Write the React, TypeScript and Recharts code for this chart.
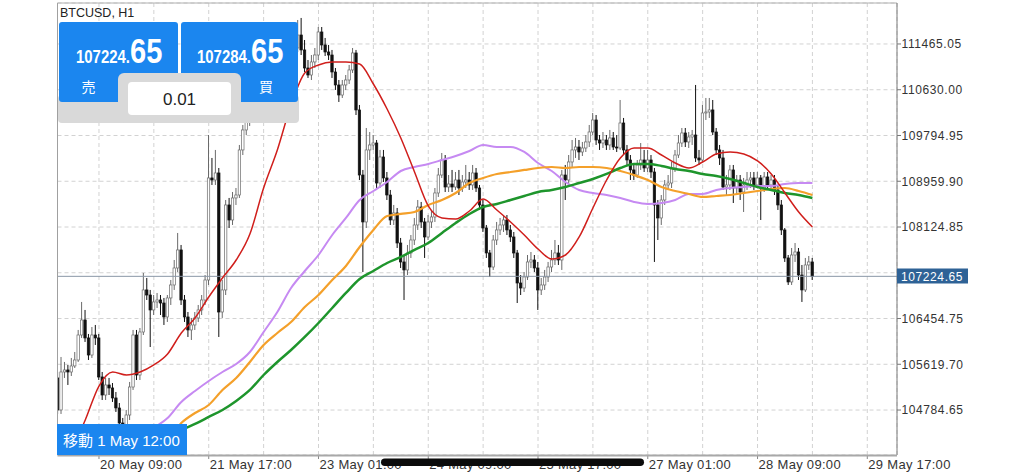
import React from "react";
import { ComposedChart, Bar, Line, XAxis, YAxis, CartesianGrid, ReferenceLine } from "recharts";

// BTCUSD H1 candles, one per hour; hour 0 = 19 May 21:00
const FIRST_OPEN = 105370;
const CLOSE = [
  104786, 105479, 105516, 105479, 105589, 105698, 106154, 106428, 106100, 105789,
  106154, 106100, 105388, 105059, 105242, 105187, 105005, 104822, 104548, 104275,
  104694, 105205, 106154, 105424, 106209, 106976, 106884, 106611, 106757, 106793,
  106738, 106483, 106830, 107067, 107377, 107706, 106793, 106483, 106246, 106337,
  106465, 106611, 106793, 107158, 109020, 108983, 109111, 106574, 106976, 108527,
  108253, 108655, 108709, 109531, 109896, 110042, 110261, 110443, 110534, 110662,
  110589, 110808, 110954, 110899, 111137, 111210, 111356, 111264, 111447, 111392,
  111629, 111356, 111027, 110899, 111137, 111264, 111684, 111447, 111319, 111264,
  110954, 110717, 110534, 110717, 110808, 110991, 111301, 110261, 109074, 108217,
  109531, 109622, 109658, 108928, 109403, 109020, 108709, 108253, 108381, 107833,
  107487, 107341, 107651, 107888, 108162, 108490, 108217, 107943, 108217, 108308,
  108746, 109074, 109348, 108855, 108910, 108855, 108983, 108837, 108947, 108983,
  108892, 109111, 108837, 108527, 108107, 107651, 107395, 107888, 108071, 108162,
  108253, 108071, 107943, 107651, 107103, 107012, 107213, 107487, 107523, 107377,
  106976, 107067, 107213, 107395, 107523, 107651, 107523, 109074, 108983, 109312,
  109531, 109585, 109494, 109567, 109677, 109859, 110078, 109713, 109658, 109713,
  109622, 109750, 109585, 109567, 110023, 109531, 109348, 109166, 109074, 109257,
  109348, 109202, 109348, 109129, 108527, 108290, 108618, 108892, 108928, 109202,
  109439, 109658, 109841, 109677, 109768, 109804, 109385, 109348, 110206, 110224,
  110261, 109859, 109531, 109385, 108855, 108892, 109166, 108837, 108983, 108764,
  108892, 108983, 109020, 108892, 109020, 108837, 109038, 108892, 108983, 108801,
  108527, 108071, 107560, 107122, 107614, 107669, 107249, 106976, 107432, 107487,
  107224.65,
];
const HIGH = [
  105479, 105753, 105662, 105607, 105735, 105844, 106246, 106757, 106611, 106173,
  106300, 106337, 106173, 105479, 105370, 105370, 105278, 105114, 104913, 104640,
  104786, 105297, 106246, 106246, 106282, 107286, 107195, 106976, 106884, 106921,
  106884, 106830, 106884, 107158, 107523, 108016, 107797, 106884, 106574, 106465,
  106574, 106702, 106884, 107249, 109804, 109385, 109531, 109202, 107158, 108618,
  108655, 108764, 108837, 109622, 109987, 110169, 110352, 110534, 110662, 110772,
  110735, 110899, 111064, 111027, 111228, 111319, 111465, 111428, 111538, 111575,
  111903, 111940, 111538, 111173, 111264, 111392, 111775, 111775, 111575, 111447,
  111356, 111027, 110808, 110808, 110899, 111082, 111392, 111356, 110352, 109166,
  109932, 109859, 109804, 109713, 109531, 109531, 109129, 108801, 108527, 108472,
  107925, 107614, 107797, 107979, 108290, 108618, 108582, 108290, 108344, 108436,
  108837, 109202, 109476, 109439, 109074, 109166, 109129, 109166, 109074, 109257,
  109129, 109257, 109202, 108892, 108618, 108162, 107706, 107979, 108217, 108290,
  108344, 108344, 108162, 108034, 107706, 107249, 107304, 107614, 107669, 107614,
  107487, 107195, 107341, 107487, 107706, 107888, 107797, 109166, 109257, 109439,
  109713, 109750, 109713, 109677, 109804, 109987, 110206, 110169, 109804, 109859,
  109804, 109896, 109859, 109804, 110443, 110115, 109622, 109439, 109293, 109348,
  109658, 109531, 109531, 109439, 109202, 108618, 108709, 108983, 109074, 109312,
  109531, 109804, 109932, 109932, 109859, 109896, 110717, 109531, 110352, 110480,
  110480, 110443, 109932, 109622, 109531, 109074, 109257, 109257, 109074, 109074,
  109020, 109129, 109129, 109129, 109129, 109074, 109129, 109129, 109074, 109074,
  108892, 108618, 108107, 107614, 107742, 107833, 107742, 107432, 107560, 107596,
  107560,
];
const LOW = [
  104713, 104713, 105370, 105242, 105406, 105552, 105662, 106100, 106027, 105698,
  105735, 105972, 105333, 104968, 104968, 105059, 104932, 104749, 104457, 104147,
  104129, 104603, 105151, 105333, 105333, 106154, 106793, 105935, 106519, 106647,
  106519, 106337, 106392, 106702, 106976, 107304, 106702, 106392, 106118, 106063,
  106246, 106392, 106519, 106702, 107067, 108892, 108892, 106118, 106465, 106884,
  108107, 108162, 108527, 108655, 109439, 109804, 109969, 110169, 110370, 110443,
  110480, 110534, 110735, 110808, 110845, 111064, 111137, 111173, 111210, 111319,
  111319, 111264, 110954, 110845, 110808, 111027, 111173, 111356, 111246, 111173,
  110845, 110626, 110407, 110480, 110626, 110735, 110936, 110169, 108983, 107304,
  108107, 109348, 109531, 108837, 108837, 108947, 108618, 108162, 108162, 107742,
  107377, 106793, 107249, 107560, 107797, 108071, 108107, 107560, 107888, 108107,
  108217, 108673, 109020, 108764, 108764, 108764, 108801, 108709, 108764, 108837,
  108801, 108801, 108764, 108436, 108034, 107560, 107213, 107341, 107797, 107979,
  108034, 107979, 107852, 107560, 106738, 106884, 106939, 107158, 107377, 107304,
  106611, 106884, 106976, 107122, 107304, 107432, 107432, 107341, 108618, 108892,
  109202, 109385, 109348, 109421, 109494, 109585, 109804, 109622, 109531, 109567,
  109531, 109531, 109531, 109494, 109531, 109439, 109257, 108983, 108983, 109020,
  109166, 109129, 109129, 109020, 107487, 107888, 108162, 108527, 108801, 108837,
  109129, 109385, 109585, 109585, 109567, 109622, 109312, 109257, 109312, 110078,
  110115, 109804, 109439, 109257, 108801, 108709, 108801, 108563, 108709, 108618,
  108399, 108801, 108837, 108801, 108837, 108253, 108764, 108801, 108837, 108709,
  108436, 107979, 107487, 107067, 107067, 107487, 107158, 106757, 106939, 107341,
  107158,
];

// moving averages, one value every 4 hours (hour 0, 4, 8 ... 220)
const MA_RED = [
  103453, 104037, 104603, 105223, 105479, 105424, 105479, 105607, 105808, 106191,
  106465, 106848, 107195, 107523, 107997, 108837, 109531, 110352, 110936, 111082,
  111137, 111137, 111100, 110735, 110279, 109750, 109129, 108509, 108290, 108271,
  108417, 108636, 108436, 108217, 107979, 107724, 107541, 107614, 107943, 108472,
  108983, 109385, 109567, 109567, 109439, 109293, 109202, 109312, 109458, 109494,
  109458, 109330, 109093, 108746, 108399, 108125,
];
const MA_VIOLET = [
  102960, 103180, 103398, 103618, 103837, 104055, 104275, 104457, 104640, 104932,
  105132, 105315, 105479, 105625, 105844, 106209, 106574, 107012, 107322, 107614,
  107979, 108290, 108618, 108782, 108947, 109147, 109220, 109275, 109348, 109421,
  109512, 109622, 109585, 109585, 109494, 109293, 109147, 108947, 108801, 108746,
  108709, 108655, 108582, 108545, 108563, 108618, 108728, 108728, 108801, 108837,
  108855, 108874, 108874, 108910, 108928, 108928,
];
const MA_ORANGE = [
  102413, 102595, 102778, 103052, 103325, 103600, 103873, 104055, 104238, 104548,
  104731, 104877, 105151, 105370, 105662, 105972, 106191, 106392, 106665, 106884,
  107158, 107414, 107760, 108071, 108326, 108363, 108399, 108527, 108618, 108746,
  108928, 109020, 109093, 109129, 109166, 109202, 109220, 109202, 109220, 109220,
  109202, 109147, 109074, 108983, 108855, 108782, 108728, 108673, 108691, 108709,
  108746, 108782, 108819, 108837, 108782, 108709,
];
const MA_GREEN = [
  102048, 102413, 102778, 103143, 103508, 103837, 104055, 104220, 104329, 104420,
  104530, 104658, 104786, 104950, 105151, 105424, 105662, 105880, 106118, 106373,
  106647, 106921, 107176, 107322, 107468, 107578, 107706, 107833, 108016, 108198,
  108363, 108490, 108545, 108618, 108691, 108764, 108801, 108855, 108928, 109001,
  109093, 109202, 109275, 109275, 109239, 109184, 109147, 109093, 109056, 109001,
  108928, 108855, 108801, 108746, 108709, 108655,
];

const GRID_HOURS = [12, 28, 44, 60, 76, 92, 108, 124, 140, 156, 172, 188, 204, 220, 236];
const X_LABEL_HOURS = [12, 44, 76, 108, 140, 172, 204, 236];
const X_LABELS = [
  "20 May 09:00", "21 May 17:00", "23 May 01:00", "24 May 09:00",
  "25 May 17:00", "27 May 01:00", "28 May 09:00", "29 May 17:00",
];
const PRICE_TICKS = [
  111465.05, 110630.0, 109794.95, 108959.9, 108124.85, 107289.8, 106454.75, 105619.7, 104784.65,
];
const BID = 107224.65;
const ASK = 107284.65;
const LOT = "0.01";

const FONT = '"Liberation Sans", Arial, "Noto Sans CJK JP", sans-serif';
const PLOT_LEFT = 57.5;
const PLOT_RIGHT = 897;
const PLOT_TOP = 3;
const PLOT_BOTTOM = 455;
const BLUE = "#1b86ef";

const rows = CLOSE.map((close, i) => ({
  t: i,
  open: i === 0 ? FIRST_OPEN : CLOSE[i - 1],
  high: HIGH[i],
  low: LOW[i],
  close,
  red: i % 4 === 0 ? MA_RED[i / 4] : null,
  violet: i % 4 === 0 ? MA_VIOLET[i / 4] : null,
  orange: i % 4 === 0 ? MA_ORANGE[i / 4] : null,
  green: i % 4 === 0 ? MA_GREEN[i / 4] : null,
}));

function Candle(props: any) {
  const { x, y, width, height, payload } = props;
  if (!payload || x == null || y == null) return null;
  const { open, close, high, low } = payload;
  const h = Math.abs(height);
  const top = height < 0 ? y + height : y;
  const k = h / (high - low || 1);
  const py = (v: number) => top + (high - v) * k;
  const cx = x + width / 2;
  const up = close >= open;
  const bTop = py(Math.max(open, close));
  const bBot = py(Math.min(open, close));
  const col = up ? "#6a6a6a" : "#111";
  return (
    <g>
      <line x1={cx} x2={cx} y1={top} y2={top + h} stroke={col} strokeWidth={1} />
      <rect
        x={x + 0.3}
        y={bTop}
        width={width - 0.6}
        height={Math.max(bBot - bTop, 1)}
        fill={up ? "#fff" : "#111"}
        stroke={col}
        strokeWidth={0.7}
      />
    </g>
  );
}

function PriceTick({ y, payload }: any) {
  // the bid label covers the tick that sits right under it
  const hidden = Math.abs(payload.value - BID) < 100;
  return (
    <g>
      <line x1={PLOT_RIGHT} x2={PLOT_RIGHT + 4} y1={y} y2={y} stroke="#777" />
      {!hidden && (
        <text x={PLOT_RIGHT + 4.5} y={y + 4.3} fontSize={12} fill="#333" letterSpacing={0.6} fontFamily={FONT}>
          {Number(payload.value).toFixed(2)}
        </text>
      )}
    </g>
  );
}

function TimeTick({ x, payload }: any) {
  const idx = X_LABEL_HOURS.indexOf(payload.value);
  if (idx < 0) return <g />;
  return (
    <g>
      <line x1={x} x2={x} y1={PLOT_BOTTOM} y2={PLOT_BOTTOM + 4} stroke="#888" />
      <text x={x + 1} y={PLOT_BOTTOM + 13.5} fontSize={13} fill="#333" letterSpacing={0.3} fontFamily={FONT}>
        {X_LABELS[idx]}
      </text>
    </g>
  );
}

function Quote({ x, value }: { x: number; value: number }) {
  const s = value.toFixed(2);
  return (
    <text transform={`translate(${x},63) scale(0.83,1)`} fontWeight="bold" fill="#fff">
      <tspan fontSize={18}>{s.slice(0, 7)}</tspan>
      <tspan fontSize={35}>{s.slice(7)}</tspan>
    </text>
  );
}

export default function App() {
  return (
    <div style={{ position: "fixed", left: 0, top: 0, width: 1024, height: 473, background: "#fff", fontFamily: FONT }}>
      <ComposedChart width={1024} height={473} data={rows} margin={{ top: PLOT_TOP, right: 0, bottom: 0, left: PLOT_LEFT }}>
        <CartesianGrid stroke="#d2d2d2" strokeDasharray="4 3" />
        <XAxis
          dataKey="t"
          type="number"
          domain={[-0.09, 244.66]}
          allowDataOverflow
          ticks={GRID_HOURS}
          interval={0}
          height={18}
          tickLine={false}
          axisLine={false}
          tick={TimeTick}
        />
        <YAxis
          orientation="right"
          type="number"
          width={127}
          domain={[103964, 112213]}
          allowDataOverflow
          ticks={PRICE_TICKS}
          interval={0}
          tickLine={false}
          axisLine={false}
          tick={PriceTick}
        />
        <ReferenceLine y={BID} stroke="#8a97a6" strokeWidth={1} />
        <Bar
          dataKey={(d: any) => [d.low, d.high]}
          barSize={3}
          shape={(p: any) => <Candle {...p} />}
          isAnimationActive={false}
        />
        <Line dataKey="violet" type="monotone" stroke="#c68af2" strokeWidth={2} dot={false} connectNulls isAnimationActive={false} />
        <Line dataKey="orange" type="monotone" stroke="#f4a02a" strokeWidth={2.2} dot={false} connectNulls isAnimationActive={false} />
        <Line dataKey="green" type="monotone" stroke="#1e952c" strokeWidth={2.5} dot={false} connectNulls isAnimationActive={false} />
        <Line dataKey="red" type="monotone" stroke="#d01f1c" strokeWidth={1.5} dot={false} connectNulls isAnimationActive={false} />
      </ComposedChart>

      <svg width={1024} height={473} style={{ position: "absolute", left: 0, top: 0, pointerEvents: "none" }} fontFamily={FONT}>
        {/* plot frame */}
        <line x1={PLOT_LEFT} x2={PLOT_LEFT} y1={PLOT_TOP} y2={PLOT_BOTTOM} stroke="#a0a0a0" />
        <line x1={PLOT_LEFT} x2={PLOT_RIGHT} y1={PLOT_TOP} y2={PLOT_TOP} stroke="#b0b0b0" />
        <line x1={PLOT_RIGHT} x2={PLOT_RIGHT} y1={PLOT_TOP} y2={PLOT_BOTTOM} stroke="#7a7a7a" />
        <line x1={PLOT_LEFT} x2={PLOT_RIGHT} y1={PLOT_BOTTOM + 0.5} y2={PLOT_BOTTOM + 0.5} stroke="#a8a8a8" strokeWidth={2} />

        {/* bid label */}
        <rect x={PLOT_RIGHT} y={268.5} width={71} height={15} fill="#2e6296" />
        <text x={PLOT_RIGHT + 4} y={280.5} fontSize={12} fill="#fff" letterSpacing={0.6}>
          {BID.toFixed(2)}
        </text>

        {/* trade panel */}
        <text x={60} y={17} fontSize={12.5} fill="#222">BTCUSD, H1</text>
        <rect x={58} y={95} width={241} height={28} rx={4} fill="#d9d9d9" />
        <rect x={59} y={22} width={119} height={80} rx={3} fill={BLUE} />
        <rect x={181} y={22} width={117} height={80} rx={3} fill={BLUE} />
        <rect x={118} y={73} width={123} height={50} rx={6} fill="#d9d9d9" />
        <rect x={128} y={82} width={103} height={33} rx={4} fill="#fff" />
        <Quote x={76} value={BID} />
        <Quote x={197} value={ASK} />
        <text x={88.5} y={92} fontSize={14} fill="#fff" textAnchor="middle">売</text>
        <text x={266} y={92} fontSize={14} fill="#fff" textAnchor="middle">買</text>
        <text x={179.5} y={105} fontSize={17} fill="#222" textAnchor="middle">{LOT}</text>

        {/* scroll-to label */}
        <rect x={57} y={424} width={130} height={31} fill={BLUE} />
        <text x={63} y={446} fontSize={15} fill="#fff">移動 1 May 12:00</text>

        {/* scroll bar */}
        <rect x={381} y={458.5} width={263} height={7.5} rx={3.75} fill="#0b0b0b" />
      </svg>
    </div>
  );
}
